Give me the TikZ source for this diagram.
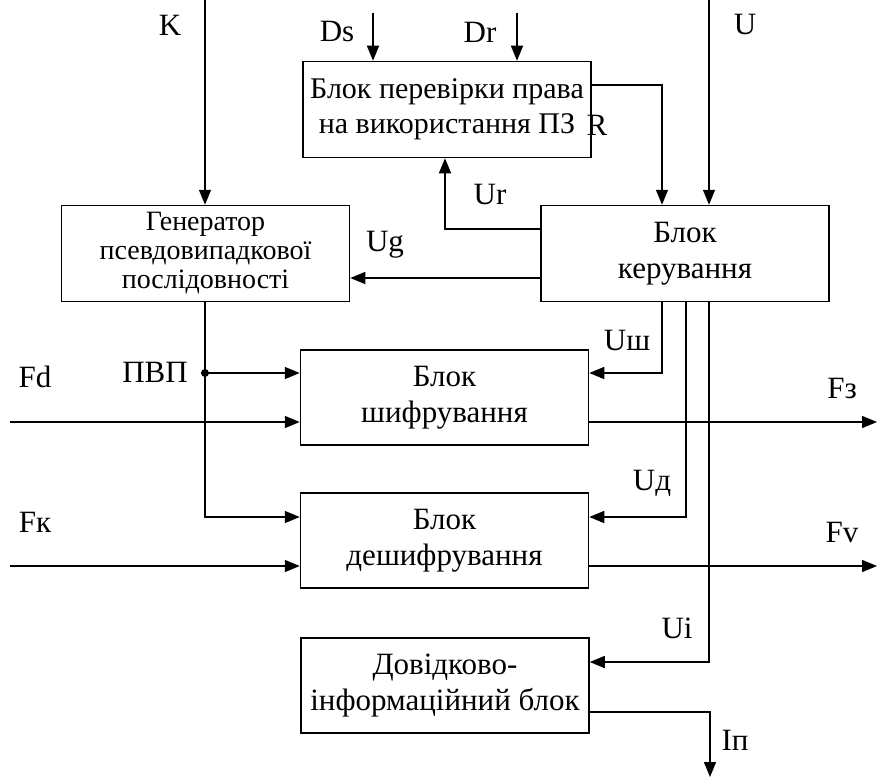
\documentclass[tikz,border=0pt]{standalone}
\usepackage{fontspec}
\setmainfont{Liberation Serif}
\usetikzlibrary{arrows.meta,positioning,calc}

\begin{document}
\begin{tikzpicture}[x=1pt,y=-1pt,
    font=\fontsize{31}{36}\selectfont,
    blk/.style={draw, line width=1.5pt, align=center, inner sep=0pt,
                minimum width=288pt, minimum height=96pt},
    sig/.style={line width=1.5pt, -{Triangle[length=15pt,width=12pt]}},
    wire/.style={line width=1.5pt}]
    \useasboundingbox (0,0) rectangle (877,781);

    % blocks
    \node[blk, font=\fontsize{30}{35}\selectfont] (check) at (447,109.5)
          {Блок перевірки права\\на використання ПЗ};
    \node[blk] (ctrl) at (685,253.5) {Блок\\керування};
    \node[blk, font=\fontsize{28}{29}\selectfont] (gen) at (205.5,253.5)
          {Генератор\\псевдовипадкової\\послідовності};
    \node[blk, minimum height=95pt] (enc) at (444.5,397.5) {Блок\\шифрування};
    \node[blk, minimum height=95pt] (dec) at (444.5,540.5) {Блок\\дешифрування};
    \node[blk, minimum height=95pt] (info) at (445,685.5) {Довідково-\\інформаційний блок};

    % free ends
    \coordinate (Kin) at (205,0);
    \coordinate (Uin) at (709,0);
    \coordinate (Dsin) at (373,13);
    \coordinate (Drin) at (517,13);
    \coordinate (pvp) at (205,373);
    \coordinate (Fdin) at (10,422);
    \coordinate (Fkin) at (10,566);
    \coordinate (Fzout) at (877,422);
    \coordinate (Fvout) at (877,566);
    \coordinate (Ipout) at (710,777);

    % inputs from above
    \draw[sig] (Kin) -- (Kin |- gen.north);
    \draw[sig] (Uin) -- (Uin |- ctrl.north);
    \draw[sig] (Dsin) -- (Dsin |- check.north);
    \draw[sig] (Drin) -- (Drin |- check.north);
    \draw[sig] (check.east |- 0,85) -| (ctrl.north -| 662,0);

    % control links
    \draw[sig] (ctrl.west |- 0,229) -| (check.south -| 445,0);
    \draw[sig] (ctrl.west |- 0,278) -- (gen.east |- 0,278);
    \draw[sig] (ctrl.south -| 662,0) |- (enc.east |- 0,373);
    \draw[sig] (ctrl.south -| 686,0) |- (dec.east |- 0,517);
    \draw[sig] (ctrl.south -| 709,0) |- (info.east |- 0,662);

    % pseudo-random sequence
    \draw[sig] (gen.south -| pvp) |- (dec.west |- 0,517);
    \draw[sig] (pvp) -- (enc.west |- pvp);
    \fill (pvp) circle (4pt);

    % data paths
    \draw[sig] (Fdin) -- (enc.west |- Fdin);
    \draw[sig] (enc.east |- Fzout) -- (Fzout);
    \draw[sig] (Fkin) -- (dec.west |- Fkin);
    \draw[sig] (dec.east |- Fvout) -- (Fvout);
    \draw[sig] (info.east |- 0,712) -| (Ipout);

    % labels
    \node (lK) at (170,25) {K};
    \node (lU) at (745,25) {U};
    \node (lDs) at (337,32) {Ds};
    \node (lDr) at (480,32) {Dr};
    \node (lR) at (597,125) {R};
    \node (lUr) at (490,195) {Ur};
    \node (lUg) at (385,245) {Ug};
    \node (lpvp) at (155,372) {ПВП};
    \node (lFd) at (35,377) {Fd};
    \node (lFk) at (35,522) {Fк};
    \node (lUsh) at (627,340) {Uш};
    \node (lUd) at (652,483) {Uд};
    \node (lFz) at (842,388) {Fз};
    \node (lFv) at (842,532) {Fv};
    \node (lUi) at (677,628) {Ui};
    \node (lIp) at (735,740) {Iп};
  \end{tikzpicture}
\end{document}
